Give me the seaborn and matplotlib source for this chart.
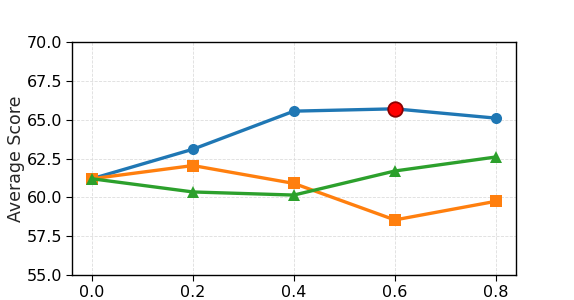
import matplotlib
matplotlib.use("Agg")
import matplotlib.pyplot as plt
import seaborn as sns
import pandas as pd

x_vals = [0.0, 0.2, 0.4, 0.6, 0.8]
blue_scores = [61.2, 63.1, 65.55, 65.7, 65.1]
orange_scores = [61.2, 62.05, 60.9, 58.55, 59.75]
green_scores = [61.2, 60.35, 60.15, 61.7, 62.6]
best_x = [0.6]
best_y = [65.7]
y_ticks = [55.0, 57.5, 60.0, 62.5, 65.0, 67.5, 70.0]

sns.set_style("ticks")
plt.rcParams['font.family'] = ['DejaVu Sans']

fig = plt.figure(figsize=(5.74, 3.0), dpi=100)
ax = fig.add_axes([0.125, 0.083, 0.774, 0.777])

series = [
    (blue_scores, "#1f77b4", "o"),
    (orange_scores, "#ff7f0e", "s"),
    (green_scores, "#2ca02c", "^"),
]
for ys, c, m in series:
    df = pd.DataFrame({"x": x_vals, "y": ys})
    sns.lineplot(data=df, x="x", y="y", ax=ax, color=c, marker=m,
                 markersize=8, linewidth=2.4, markeredgewidth=0)

ax.scatter(best_x, best_y, s=110, color="red", edgecolor="darkred",
           linewidth=1.3, zorder=5)

ax.set_ylim(55, 70)
ax.set_yticks(y_ticks)
ax.set_yticklabels([f"{v:.1f}" for v in y_ticks])
ax.set_xticks(x_vals)
ax.set_xticklabels([f"{v:.1f}" for v in x_vals])
ax.set_xlim(-0.04, 0.84)
ax.set_xlabel("")
ax.set_ylabel("Average Score", fontsize=12.5, labelpad=1)
ax.tick_params(labelsize=11.5, colors="black", length=4, pad=3)
ax.grid(True, linestyle="--", linewidth=0.6, color="#dddddd")
for s in ax.spines.values():
    s.set_color("black")
    s.set_linewidth(1.0)

fig.savefig("out.png", dpi=100)
